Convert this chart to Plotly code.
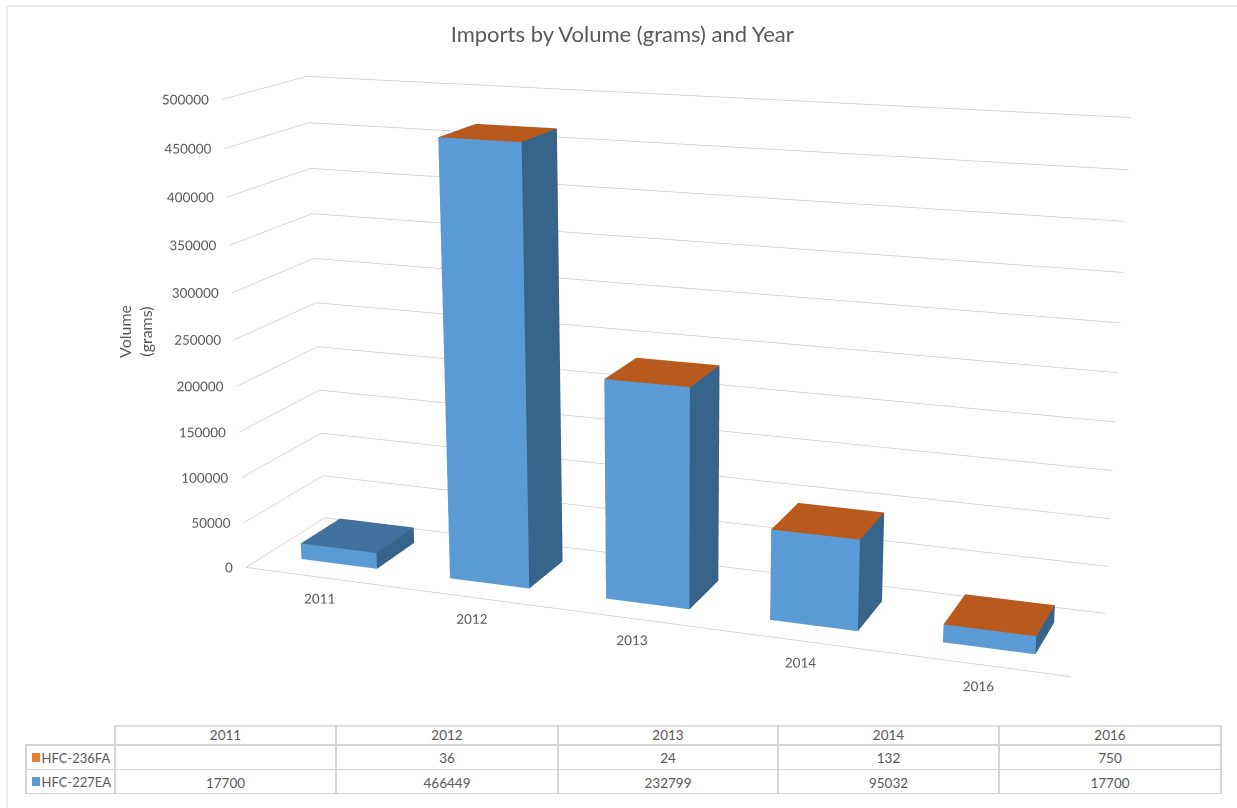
import numpy as np
import plotly.graph_objects as go

years = ["2011", "2012", "2013", "2014", "2016"]
hfc236 = [None, 36, 24, 132, 750]
hfc227 = [17700, 466449, 232799, 95032, 17700]
ticks = list(range(0, 500001, 50000))

W, H = 1237, 808
ZMIN, ZMAX = -20000, 500000
dz = 0.0113
eye = (0.9116, -2.4736, 0.6821 + dz)
center = (-0.0141, -0.1022, -0.0315 + dz)
up = (0.0033, 0.0084, 1.0)
asp = (0.9974, 0.2017, 0.5662 * (ZMAX - ZMIN) / 500000)
bw, y0, y1 = 0.2570, 0.2496, 0.7555
fovy = 0.3351

def box(xa, xb, ya, yb, za, zb):
    return np.array([[xa, ya, za], [xb, ya, za], [xb, yb, za], [xa, yb, za], [xa, ya, zb], [xb, ya, zb], [xb, yb, zb], [xa, yb, zb]], float)

FACES = [("front", (0, 1, 5, 4)), ("right", (1, 2, 6, 5)), ("top", (4, 5, 6, 7)), ("back", (2, 3, 7, 6)), ("left", (3, 0, 4, 7))]

def mesh(name, bottoms, vals, colors, covered=None):
    X, Y, Z, I, JJ, K, FC = [], [], [], [], [], [], []
    n = 0
    for i, (b, v) in enumerate(zip(bottoms, vals)):
        if v is None:
            continue
        V = box(i + .5 - bw, i + .5 + bw, y0, y1, b, b + v)
        X += list(V[:, 0]); Y += list(V[:, 1]); Z += list(V[:, 2])
        for fn, (a_, b_, c_, d_) in FACES:
            # a top face hidden under the next stacked segment is left out
            if fn == "top" and covered is not None and covered[i] is not None:
                continue
            col = colors[fn]
            I += [n + a_, n + a_]; JJ += [n + b_, n + c_]; K += [n + c_, n + d_]; FC += [col, col]
        n += 8
    return go.Mesh3d(x=X, y=Y, z=Z, i=I, j=JJ, k=K, facecolor=FC, name=name, flatshading=True, hoverinfo="skip",
                     lighting=dict(ambient=1, diffuse=0, specular=0, roughness=1, fresnel=0))

fig = go.Figure()
fig.add_trace(mesh("HFC-227EA", [0] * 5, hfc227, dict(front="#5B9BD5", right="#37648A", top="#41719C", back="#37648A", left="#37648A"), covered=hfc236))
fig.add_trace(mesh("HFC-236FA", hfc227, hfc236, dict(front="#5B9BD5", right="#37648A", top="#B85A1E", back="#B85A1E", left="#B85A1E")))

GRID = "#CCCCCC"
TXT = "#595959"

# front edge of the floor
fig.add_trace(go.Scatter3d(x=[0, 5], y=[0, 0], z=[0, 0], mode="lines", line=dict(color=GRID, width=1.5), hoverinfo="skip"))
fig.add_trace(go.Scatter3d(x=[0] * len(ticks), y=[0] * len(ticks), z=ticks, mode="text", text=[str(t) + "\u00a0" for t in ticks],
                           textposition="middle left", textfont=dict(family="Lato", size=13.5, color=TXT), hoverinfo="skip"))
fig.add_trace(go.Scatter3d(x=[i + .5 for i in range(5)], y=[0] * 5, z=[-3500] * 5, mode="text", text=years,
                           textposition="bottom center", textfont=dict(family="Lato", size=13.5, color=TXT), hoverinfo="skip"))

fig.update_layout(
    width=W, height=H, margin=dict(l=0, r=0, t=0, b=0), paper_bgcolor="white", showlegend=False,
    font=dict(family="Lato", size=13, color=TXT),
    title=dict(text="Imports by Volume (grams) and Year", x=.503, xanchor="center", y=.958, yanchor="middle",
               font=dict(family="Lato", size=22, color=TXT)),
    scene=dict(
        domain=dict(x=[0, 1], y=[0, 1]), dragmode="orbit",
        aspectmode="manual", aspectratio=dict(x=asp[0], y=asp[1], z=asp[2]),
        camera=dict(eye=dict(x=eye[0], y=eye[1], z=eye[2]), center=dict(x=center[0], y=center[1], z=center[2]),
                    up=dict(x=up[0], y=up[1], z=up[2]), projection=dict(type="perspective")),
        xaxis=dict(range=[0, 5], tickvals=[.5, 1.5, 2.5, 3.5, 4.5], showticklabels=False, showgrid=False, zeroline=False,
                   showline=False, ticks="", title="", showbackground=False, showspikes=False),
        yaxis=dict(range=[0, 1], showticklabels=False, showgrid=False, zeroline=False, showline=False,
                   ticks="", title="", showbackground=False, showspikes=False),
        zaxis=dict(range=[ZMIN, ZMAX], tickvals=ticks, showticklabels=False, showgrid=True, gridcolor=GRID, gridwidth=1.5, zeroline=False, showline=False,
                   ticks="", title="", showbackground=False, showspikes=False),
    ),
    annotations=[
        dict(text="Volume<br>(grams)", textangle=-90, xref="paper", yref="paper", x=135 / W, y=1 - 332 / H, xanchor="center", yanchor="middle", showarrow=False,
             font=dict(family="Lato", size=16, color=TXT)),
    ],
    shapes=[dict(type="rect", xref="paper", yref="paper", x0=7 / W, x1=1.01, y0=-.01, y1=1 - 6 / H, line=dict(color="#D9D9D9", width=1)),
            dict(type="rect", xref="paper", yref="paper", x0=100 / W, x1=1230 / W, y0=1 - 725.2 / H, y1=1 - 719 / H, fillcolor="white", line=dict(width=0), layer="above"),
            dict(type="line", xref="paper", yref="paper", x0=115 / W, x1=1221 / W, y0=1 - 726 / H, y1=1 - 726 / H, line=dict(color="#D4D4D4", width=1.5), layer="above"),
            dict(type="rect", xref="paper", yref="paper", x0=32 / W, x1=40 / W, y0=1 - 762 / H, y1=1 - 753 / H, fillcolor="#ED7D31", line=dict(width=0), layer="above"),
            dict(type="rect", xref="paper", yref="paper", x0=32 / W, x1=40 / W, y0=1 - 786 / H, y1=1 - 777 / H, fillcolor="#5B9BD5", line=dict(width=0), layer="above")],
)

fig.add_trace(go.Table(
    domain=dict(x=[26 / W, 1221 / W], y=[1 - 795 / H, 1 - 722 / H]),
    columnwidth=[89, 221, 222, 220, 221, 222],
    header=dict(values=[""] + years, height=23, align="center", fill_color=["rgba(0,0,0,0)"] + ["white"] * 5,
                line=dict(color=["rgba(0,0,0,0)"] + ["#D4D4D4"] * 5, width=1.5), font=dict(family="Lato", size=13.5, color=TXT)),
    cells=dict(values=[["\u00a0\u00a0\u200aHFC-236FA", "\u00a0\u00a0\u200aHFC-227EA"]] +
                      [["" if a is None else str(a), str(b)] for a, b in zip(hfc236, hfc227)],
               height=24.5, align=["left"] + ["center"] * 5, fill_color="white", line=dict(color="#D4D4D4", width=1.5),
               font=dict(family="Lato", size=[13] + [13.5] * 5, color=TXT)),
))

post = """
var gd=document.getElementById('{plot_id}');document.body.style.margin='0';document.body.style.overflow='hidden';
var gl=gd._fullLayout.scene._scene.glplot; gl.fovy=%f; gl.redraw();
""" % fovy
fig.write_html("out.html", post_script=post, config={"displayModeBar": False})
